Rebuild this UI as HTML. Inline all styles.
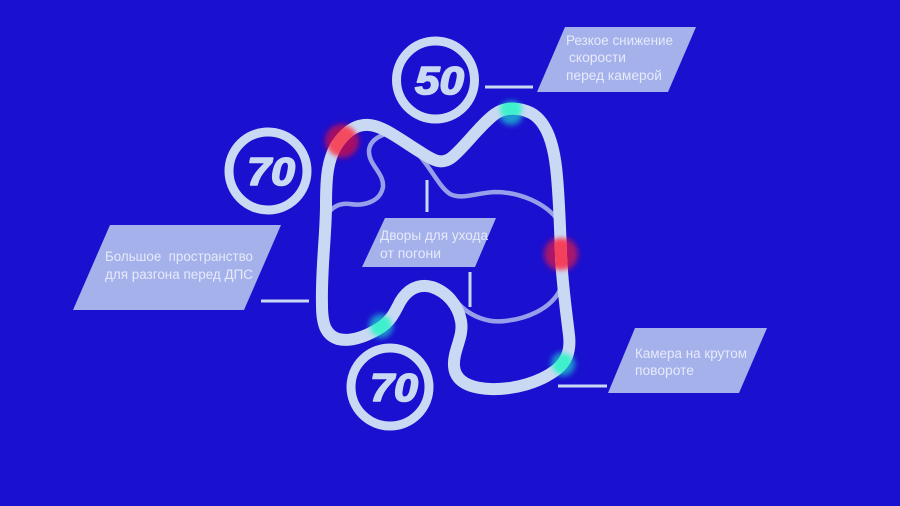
<!DOCTYPE html>
<html><head><meta charset="utf-8">
<style>
html,body{margin:0;padding:0;background:#1a10cf;width:900px;height:506px;overflow:hidden}
svg{display:block}
text{font-family:"Liberation Sans",sans-serif}
.l{font-size:13.5px;fill:#e6eafb}
.n{font-size:39px;font-weight:bold;font-style:italic;fill:#c9d9f4;stroke:#c9d9f4;stroke-width:1.6;stroke-linejoin:round}
</style></head><body>
<svg width="900" height="506" viewBox="0 0 900 506" xmlns="http://www.w3.org/2000/svg">
<defs>
<filter id="b" x="-50%" y="-50%" width="200%" height="200%"><feGaussianBlur stdDeviation="3.5"/></filter>
<filter id="b2" x="-50%" y="-50%" width="200%" height="200%"><feGaussianBlur stdDeviation="3"/></filter>
<filter id="b3" x="-50%" y="-50%" width="200%" height="200%"><feGaussianBlur stdDeviation="2.5"/></filter>
<path id="t" d="M326 205 C326 175 328 160 336 146 C345 132 356 124 369 125 C384 126 402 141 422 153 C433 160 441 165 451 158 C463 149 480 125 495 114 C505 107 519 107 531 113 C546 121 553 142 556 167 C559 192 560 225 561 255 C562 282 566 310 569 335 C571 352 566 362 556 370 C540 382 515 390 490 389 C470 388 455 382 454 366 C453 350 464 337 461 321 C458 305 447 292 432 287 C418 283 407 290 400 302 C394 314 390 322 378 329 C365 337 350 342 338 339 C326 335 322 325 322 305 C321 270 326 235 326 205 Z"/>
<mask id="mr1"><circle cx="342" cy="141" r="16" fill="#fff" filter="url(#b3)"/></mask>
<mask id="mr2"><circle cx="561" cy="254" r="16" fill="#fff" filter="url(#b3)"/></mask>
<mask id="mg1"><circle cx="511" cy="109" r="11" fill="#fff" filter="url(#b3)"/></mask>
<mask id="mg2"><circle cx="381" cy="326" r="11" fill="#fff" filter="url(#b3)"/></mask>
<mask id="mg3"><circle cx="563" cy="364" r="11" fill="#fff" filter="url(#b3)"/></mask>
</defs>
<rect width="900" height="506" fill="#1a10cf"/>

<!-- inner roads -->
<g fill="none" stroke="#989fea" stroke-width="4.5">
<path d="M329 212 C335 205 342 203 350 204 C362 206 380 203 383 187 C384 172 368 165 369 150 C370 142 376 137 388 133"/>
<path d="M414 150 C430 165 438 186 450 194 C462 200 475 193 495 192 C520 192 545 203 558 220"/>
<path d="M455 300 C470 318 490 323 505 321 C525 319 550 310 560 290"/>
</g>

<!-- glows -->
<g filter="url(#b2)" opacity=".9">
<circle cx="342" cy="141" r="17" fill="#b80f58"/>
<circle cx="561" cy="254" r="17" fill="#bb1260"/>
<circle cx="511" cy="113" r="12" fill="#1fa8d0"/>
<circle cx="381" cy="326" r="12" fill="#1fa8d0"/>
<circle cx="563" cy="364" r="12" fill="#1fa8d0"/>
</g>

<!-- track -->
<use href="#t" fill="none" stroke="#c9d9f4" stroke-width="12"/>
<g fill="none" stroke-width="12">
<use href="#t" stroke="#f44a60" mask="url(#mr1)"/>
<use href="#t" stroke="#f5405c" mask="url(#mr2)"/>
<use href="#t" stroke="#3ff0cc" mask="url(#mg1)"/>
<use href="#t" stroke="#3ff0cc" mask="url(#mg2)"/>
<use href="#t" stroke="#3ff0cc" mask="url(#mg3)"/>
</g>

<!-- connectors -->
<g stroke="#c9d9f4" stroke-width="3" fill="none">
<path d="M485 87H533"/>
<path d="M261 301H309"/>
<path d="M558 386H607"/>
<path d="M427 180V212"/>
<path d="M470 272V307"/>
</g>

<!-- parallelograms -->
<g fill="#a5b1ea">
<polygon points="565,27 696,27 668,92 537,92"/>
<polygon points="110,225 281,225 244,310 73,310"/>
<polygon points="385,218 496,218 475,267 362,267"/>
<polygon points="635,328 767,328 739,393 608,393"/>
</g>

<!-- signs -->
<g fill="none" stroke="#c9d9f4" stroke-width="9">
<circle cx="435.5" cy="80" r="39"/>
<circle cx="268" cy="171" r="39"/>
<circle cx="390" cy="387" r="39"/>
</g>
<text class="n" x="415" y="94" textLength="49" lengthAdjust="spacingAndGlyphs">50</text>
<text class="n" x="247" y="185" textLength="48" lengthAdjust="spacingAndGlyphs">70</text>
<text class="n" x="370" y="401" textLength="48" lengthAdjust="spacingAndGlyphs">70</text>

<!-- labels -->
<text class="l" x="566" y="45" textLength="107" lengthAdjust="spacingAndGlyphs">Резкое снижение</text>
<text class="l" x="569" y="62" textLength="57" lengthAdjust="spacingAndGlyphs">скорости</text>
<text class="l" x="566" y="80" textLength="96" lengthAdjust="spacingAndGlyphs">перед камерой</text>
<text class="l" x="105" y="261" textLength="148" lengthAdjust="spacingAndGlyphs">Большое&#160;&#160;пространство</text>
<text class="l" x="105" y="279" textLength="148" lengthAdjust="spacingAndGlyphs">для разгона перед ДПС</text>
<text class="l" x="380" y="240" textLength="108" lengthAdjust="spacingAndGlyphs">Дворы для ухода</text>
<text class="l" x="380" y="258" textLength="61" lengthAdjust="spacingAndGlyphs">от погони</text>
<text class="l" x="635" y="358" textLength="112" lengthAdjust="spacingAndGlyphs">Камера на крутом</text>
<text class="l" x="635" y="375" textLength="59" lengthAdjust="spacingAndGlyphs">повороте</text>
</svg>
</body></html>
